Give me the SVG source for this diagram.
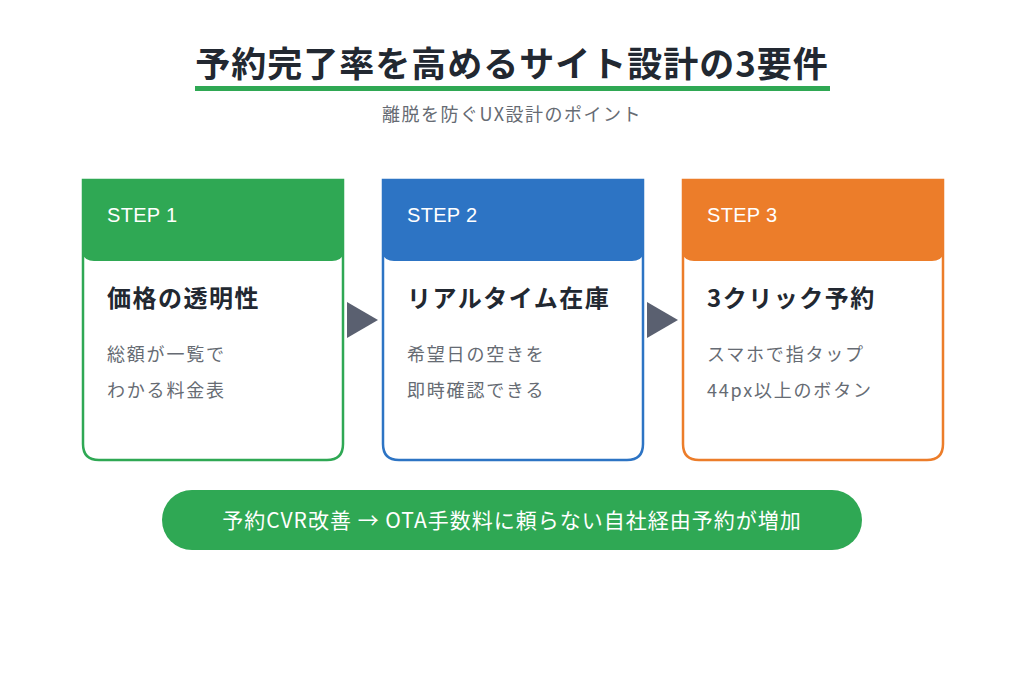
<svg xmlns="http://www.w3.org/2000/svg" width="1024" height="683" viewBox="0 0 1024 683">
<style>
text{font-family:"Noto Sans CJK JP","Noto Sans",sans-serif}
.title{font-size:35px;font-weight:700;fill:#222831;letter-spacing:1px}
.sub{font-size:18px;fill:#666b73;letter-spacing:1.5px}
.step{font-size:20px;fill:#ffffff;font-family:"Liberation Sans","Noto Sans CJK JP",sans-serif;letter-spacing:0.3px}
.h{font-size:24px;font-weight:700;fill:#222831;letter-spacing:1.5px}
.b{font-size:18px;fill:#666b73;letter-spacing:1.8px}
.card{fill:#ffffff;stroke-width:2.5}
.foot{font-size:21px;fill:#ffffff;letter-spacing:1px}
</style>
<rect width="1024" height="683" fill="#ffffff"/>
<g id="title">
<text class="title" x="512" y="77" text-anchor="middle">予約完了率を高めるサイト設計の3要件</text>
<rect x="195" y="86" width="635" height="5" fill="#2fa854"/>
<text class="sub" x="512" y="121" text-anchor="middle">離脱を防ぐUX設計のポイント</text>
</g>
<g id="step1">
<path class="card" stroke="#2fa854" d="M83,180 H343 V444 Q343,460 327,460 H99 Q83,460 83,444 Z"/>
<path fill="#2fa854" d="M82,179 H344 V249 Q344,261 332,261 H94 Q82,261 82,249 Z"/>
<text class="step" x="107" y="222">STEP 1</text>
<text class="h" x="107" y="307">価格の透明性</text>
<text class="b" x="107" y="361">総額が一覧で</text>
<text class="b" x="107" y="397">わかる料金表</text>
</g>
<g id="step2">
<path class="card" stroke="#2d74c4" d="M383,180 H643 V444 Q643,460 627,460 H399 Q383,460 383,444 Z"/>
<path fill="#2d74c4" d="M382,179 H644 V249 Q644,261 632,261 H394 Q382,261 382,249 Z"/>
<text class="step" x="407" y="222">STEP 2</text>
<text class="h" x="407" y="307">リアルタイム在庫</text>
<text class="b" x="407" y="361">希望日の空きを</text>
<text class="b" x="407" y="397">即時確認できる</text>
</g>
<g id="step3">
<path class="card" stroke="#ec7d2a" d="M683,180 H943 V444 Q943,460 927,460 H699 Q683,460 683,444 Z"/>
<path fill="#ec7d2a" d="M682,179 H944 V249 Q944,261 932,261 H694 Q682,261 682,249 Z"/>
<text class="step" x="707" y="222">STEP 3</text>
<text class="h" x="707" y="307">3クリック予約</text>
<text class="b" x="707" y="361">スマホで指タップ</text>
<text class="b" x="707" y="397">44px以上のボタン</text>
</g>
<g id="connectors" fill="#5a6070">
<polygon points="347,302 378,320 347,338"/>
<polygon points="647,302 678,320 647,338"/>
</g>
<g id="footer">
<rect x="162" y="490" width="700" height="60" rx="30" fill="#2fa854"/>
<text class="foot" x="512" y="528" text-anchor="middle">予約CVR改善 → OTA手数料に頼らない自社経由予約が増加</text>
</g>
</svg>
